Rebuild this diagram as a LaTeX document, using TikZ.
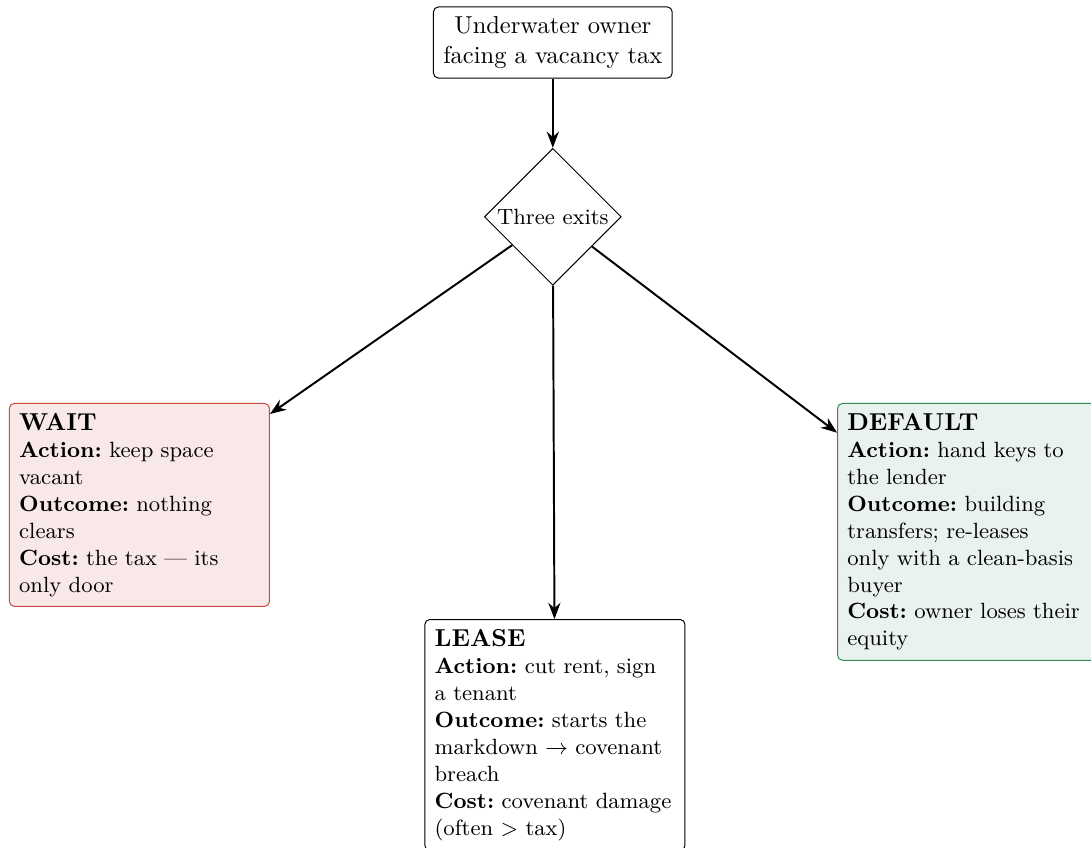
\documentclass[tikz,border=0pt]{standalone}
\usetikzlibrary{shapes.geometric,arrows.meta}

\definecolor{waitline}{RGB}{201,76,64}
\definecolor{waitfill}{RGB}{248,232,231}
\definecolor{defaultline}{RGB}{52,140,85}
\definecolor{defaultfill}{RGB}{233,242,236}

\tikzset{
    startbox/.style={draw, rounded corners=2pt, inner sep=4pt, align=center},
    exitbox/.style={draw, rounded corners=2pt, inner sep=4pt, text width=3.45cm, align=left, font=\small\frenchspacing, anchor=north},
    flow/.style={->, thick}
}

\begin{document}
\begin{tikzpicture}[>={Stealth}]
    \useasboundingbox (-7.93, -9.05) rectangle (7.72, 3.11);

    \node [startbox] (owner) at (0, 2.5) {Underwater owner\\facing a vacancy tax};
    \node [draw, diamond, aspect=1, inner sep=1pt, font=\small] (exits) at (0, 0) {Three exits};

    \node [exitbox, draw=waitline, fill=waitfill] (wait) at (-5.93, -2.67)
        {{\normalsize\bfseries WAIT}\\
         \textbf{Action:} keep space\\vacant\\
         \textbf{Outcome:} nothing\\clears\\
         \textbf{Cost:} the tax --- its\\only door};
    \node [exitbox, fill=white] (lease) at (0.03, -5.77)
        {{\normalsize\bfseries LEASE}\\
         \textbf{Action:} cut rent, sign\\a tenant\\
         \textbf{Outcome:} starts the\\markdown $\rightarrow$ covenant\\breach\\
         \textbf{Cost:} covenant damage\\(often $>$ tax)};
    \node [exitbox, draw=defaultline, fill=defaultfill] (default) at (5.95, -2.67)
        {{\normalsize\bfseries DEFAULT}\\
         \textbf{Action:} hand keys to\\the lender\\
         \textbf{Outcome:} building\\transfers; re-leases\\only with a clean-basis\\buyer\\
         \textbf{Cost:} owner loses their\\equity};

    \draw [flow] (owner) -- (exits);
    \draw [flow] (exits) -- (wait);
    \draw [flow] (exits) -- (lease);
    \draw [flow] (exits) -- (default);
\end{tikzpicture}
\end{document}
